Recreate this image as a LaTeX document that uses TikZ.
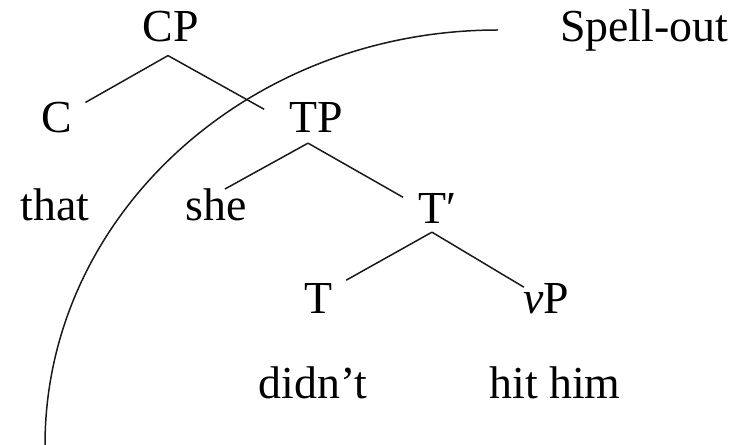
\documentclass[tikz,border=0pt]{standalone}
\usepackage{fontspec}
\setmainfont{Liberation Serif}
\begin{document}
\begin{tikzpicture}[x=1bp,y=-1bp,
  lab/.style={font=\fontsize{46}{55}\selectfont, inner sep=0pt, anchor=base},
  branch/.style={line width=1.5pt, black!90},
  spell/.style={line width=1.5pt, black!90}]
\useasboundingbox (0,0) rectangle (738,445);
% nodes
\node[lab] (CP) at (171,42) {CP};
\node[lab] (C) at (57,133) {C};
\node[lab] (TP) at (316,133) {TP};
\node[lab] (that) at (55,221) {that};
\node[lab] (she) at (216,221) {she};
\node[lab, anchor=base west] (Tbar) at (418,224) {T′};
\node[lab] (T) at (318,314) {T};
\node[lab] (vP) at (546,314) {\textit{v}P};
\node[lab] (didnt) at (313,398) {didn’t};
\node[lab] (hithim) at (555,398) {hit him};
\node[lab, anchor=base west] (spellout) at (560,42) {Spell-out};
% apex points
\coordinate (CPa) at ([xshift=-3pt,yshift=-13pt]CP.south);
\coordinate (TPa) at ([xshift=-8pt,yshift=-10pt]TP.south);
\coordinate (Tbara) at ([xshift=14pt,yshift=-8pt]Tbar.south west);
% branches
\draw[branch] (CPa) -- ([xshift=13pt]C.north east);
\draw[branch] (CPa) -- ([xshift=-25pt,yshift=-6.5pt]TP.north west);
\draw[branch] (TPa) -- ([xshift=9pt]she.north);
\draw[branch] (TPa) -- ([xshift=-15pt,yshift=-3.5pt]Tbar.north west);
\draw[branch] (Tbara) -- ([xshift=14pt,yshift=3.6pt]T.north east);
\draw[branch] (Tbara) -- ([xshift=1pt,yshift=-3.4pt]vP.north west);
% spell-out boundary
\coordinate (arcA) at (498,30);
\coordinate (arcB) at (45,445);
\draw[spell] (arcA) .. controls (247.8,30) and (45,215.8) .. (arcB);
\end{tikzpicture}
\end{document}
